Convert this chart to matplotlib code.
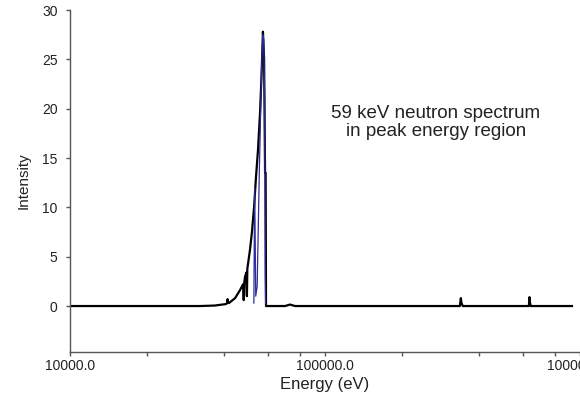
import numpy as np
import matplotlib.pyplot as plt
from matplotlib.ticker import FixedLocator, FormatStrFormatter

plt.rcParams['font.family'] = ['Liberation Sans', 'DejaVu Sans']

# black spectrum (energy in eV, intensity)
energy = [10000, 32400, 37000, 40900, 41300, 41500, 41700, 42000, 44400, 46400,
          47700, 48000, 48300, 48600, 49200, 49400, 49600, 50800, 51700, 52700,
          53600, 54600, 55600, 56400, 57100, 57700, 58200, 58500, 58700, 69700,
          72900, 76300, 338000, 341000, 343000, 347000, 630000, 634000, 637000,
          641000, 930000]
intensity = [0, 0, 0.05, 0.2, 0.3, 0.7, 0.3, 0.3, 0.8, 1.6,
             2.2, 0.6, 2.5, 3.0, 3.4, 1.0, 3.8, 5.7, 7.5, 10.0,
             13.0, 15.8, 19.5, 23.5, 27.8, 25.0, 13.5, 13.5, 0, 0,
             0.15, 0, 0, 0.8, 0.3, 0, 0, 0.9, 0.3,
             0, 0]

# blue spectrum, narrower peak
energy_b = [52600, 53000, 53500, 54200, 55300, 56400, 57000, 57500, 58000, 58300, 58500]
intensity_b = [0.3, 12.0, 1.0, 2.0, 14.0, 24.0, 27.5, 27.0, 21.0, 3.0, 0.2]

fig = plt.figure(figsize=(5.8, 4.12), dpi=100)
ax = fig.add_axes([0.1207, 0.1456, 0.8793, 0.8301])

ax.plot(energy, intensity, color='black', lw=1.6)
ax.plot(energy_b, intensity_b, color='#2b2b9a', lw=0.9)

ax.set_xscale('log')
ax.set_xlim(10000, 1000000)
ax.set_ylim(-4.66, 30)
ax.xaxis.set_major_locator(FixedLocator([1e4, 1e5, 1e6]))
ax.xaxis.set_major_formatter(FormatStrFormatter('%.1f'))
ax.xaxis.set_minor_locator(FixedLocator([2e4, 4e4, 6e4, 8e4, 2e5, 4e5, 6e5, 8e5]))
ax.xaxis.set_minor_formatter(plt.NullFormatter())
ax.set_yticks([0, 5, 10, 15, 20, 25, 30])

for s in ['top', 'right']:
    ax.spines[s].set_visible(False)
for s in ['left', 'bottom']:
    ax.spines[s].set_color('#555555')
    ax.spines[s].set_linewidth(1.0)
ax.tick_params(which='both', direction='out', length=3, width=1.0,
               color='#555555', labelsize=10, labelcolor='#222222')
ax.tick_params(axis='x', pad=2)
ax.tick_params(axis='y', pad=6)

ax.set_xlabel('Energy (eV)', fontsize=12, color='#222222', labelpad=3)
ax.set_ylabel('Intensity', fontsize=11, color='#222222', labelpad=8)

ax.text(1.0e4 * 10 ** ((436 - 70) / 255.0), 18.6,
        '59 keV neutron spectrum\nin peak energy region',
        ha='center', va='center', fontsize=13.5, color='#222222', linespacing=1.15)

fig.savefig('out.png', dpi=100)
